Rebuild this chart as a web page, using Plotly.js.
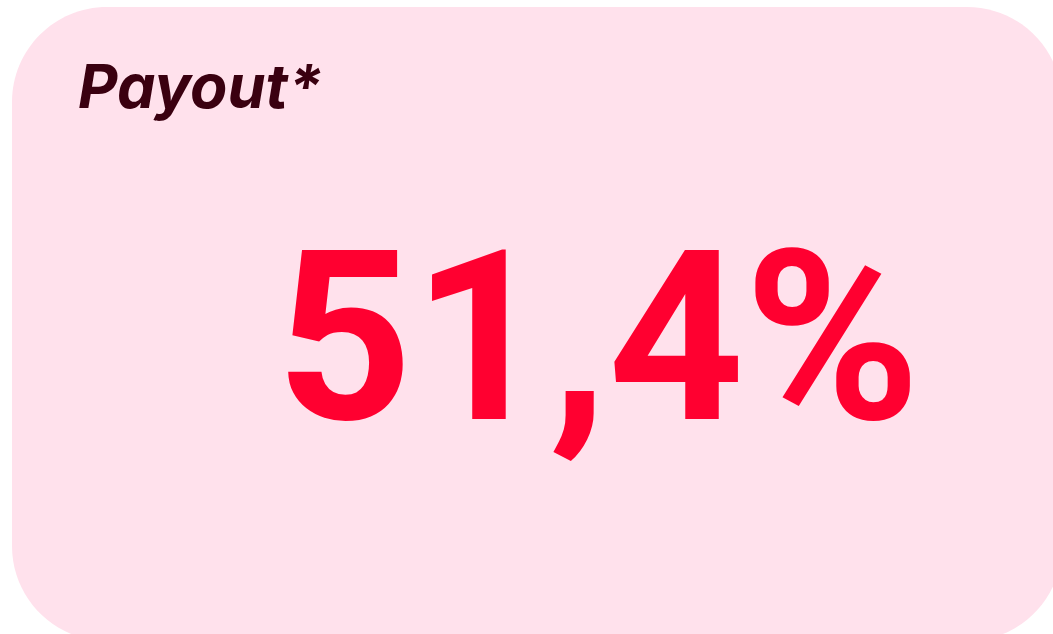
<!DOCTYPE html>
<html>
<head>
<meta charset="utf-8">
<script src="https://cdn.plot.ly/plotly-3.0.1.min.js"></script>
<style>html,body{margin:0;padding:0;background:#fff;}#chart{width:1053px;height:634px;}</style>
</head>
<body>
<div id="chart"></div>
<script>
var kpiLabels = ["Payout*"];
var kpiValues = [51.4];
var kpiSuffixes = ["%"];

var W = 1053, H = 634;
function px(x){ return x / W; }
function py(y){ return 1 - y / H; }
function roundRect(x0, y0, x1, y1, r){
  var k = 0.5523 * r;
  var p = [];
  p.push('M', px(x0 + r), py(y0));
  p.push('L', px(x1 - r), py(y0));
  p.push('C', px(x1 - r + k), py(y0), px(x1), py(y0 + r - k), px(x1), py(y0 + r));
  p.push('L', px(x1), py(y1 - r));
  p.push('C', px(x1), py(y1 - r + k), px(x1 - r + k), py(y1), px(x1 - r), py(y1));
  p.push('L', px(x0 + r), py(y1));
  p.push('C', px(x0 + r - k), py(y1), px(x0), py(y1 - r + k), px(x0), py(y1 - r));
  p.push('L', px(x0), py(y0 + r));
  p.push('C', px(x0), py(y0 + r - k), px(x0 + r - k), py(y0), px(x0 + r), py(y0));
  p.push('Z');
  var s = '';
  for (var i = 0; i < p.length; i++) {
    var v = p[i];
    if (typeof v === 'number') { s += v.toFixed(5); if (typeof p[i+1] === 'number') s += ','; else s += ' '; }
    else s += v + ' ';
  }
  return s.trim();
}

var data = [{
  type: 'indicator',
  mode: 'number',
  value: kpiValues[0],
  number: {
    suffix: kpiSuffixes[0],
    valueformat: '.1f',
    font: {family: 'Roboto, "Open Sans", sans-serif', size: 238, color: '#FF0030', weight: 700}
  },
  domain: {x: [0.136, 1], y: [0.187, 0.747]}
}];

var layout = {
  width: W, height: H,
  margin: {l: 0, r: 0, t: 0, b: 0},
  paper_bgcolor: '#ffffff',
  plot_bgcolor: 'rgba(0,0,0,0)',
  separators: ',.',
  showlegend: false,
  shapes: [{
    type: 'path', xref: 'paper', yref: 'paper',
    path: roundRect(12, 7, 1062, 641, 95),
    fillcolor: '#FFE1EC',
    line: {width: 0},
    layer: 'below'
  }],
  annotations: [{
    text: '<b><i>' + kpiLabels[0] + '</i></b>',
    xref: 'paper', yref: 'paper',
    x: px(76), y: py(86),
    xanchor: 'left', yanchor: 'middle',
    showarrow: false,
    font: {family: 'Inter, "Open Sans", sans-serif', size: 61, color: '#3A0010'}
  }]
};

Plotly.newPlot('chart', data, layout, {displayModeBar: false, staticPlot: true});
</script>
</body>
</html>
